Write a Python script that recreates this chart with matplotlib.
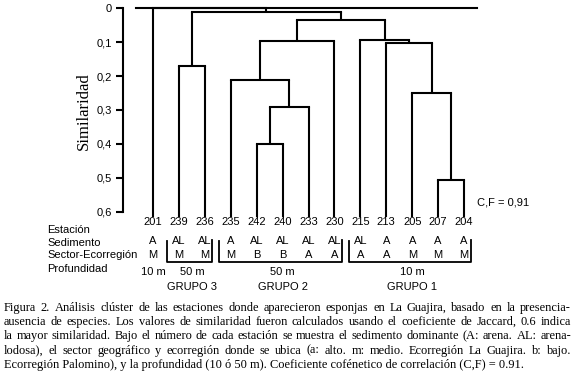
import numpy as np
import matplotlib
matplotlib.use('Agg')
import matplotlib.pyplot as plt
import matplotlib.transforms as mtransforms

# stations in leaf order (left to right)
stations = ['201', '239', '236', '235', '242', '240', '233', '230', '215', '213', '205', '207', '204']
sedimento = ['A', 'AL', 'AL', 'A', 'AL', 'AL', 'AL', 'AL', 'AL', 'A', 'A', 'A', 'A']
sector = ['M', 'M', 'M', 'M', 'B', 'B', 'A', 'A', 'A', 'A', 'M', 'M', 'M']

# merges: (left node, right node, similarity); nodes >= 13 are earlier merges
merges = [
    (4, 5, 0.40),     # 13: 242-240
    (13, 6, 0.29),    # 14: + 233
    (3, 14, 0.212),   # 15: 235 + ...
    (1, 2, 0.169),    # 16: 239-236 (grupo 3)
    (11, 12, 0.506),  # 17: 207-204
    (10, 17, 0.249),  # 18: 205 + ...
    (9, 18, 0.103),   # 19: 213 + ...
    (8, 19, 0.094),   # 20: 215 + ... (grupo 1)
    (15, 7, 0.096),   # 21: grupo 2 + 230
    (21, 20, 0.035),  # 22
    (16, 22, 0.010),  # 23
    (0, 23, 0.0),     # 24: 201 + all
]

# groups: (first leaf, last leaf, depth label, group label)
groups = [(0, 0, '10 m', ''), (1, 2, '50 m', 'GRUPO 3'), (3, 7, '50 m', 'GRUPO 2'), (8, 12, '10 m', 'GRUPO 1')]

yticks = [0, 0.1, 0.2, 0.3, 0.4, 0.5, 0.6]
yticklabels = ['0', '0,1', '0,2', '0,3', '0,4', '0,5', '0,6']

caption = [
    'Figura 2. Análisis clúster de las estaciones donde aparecieron esponjas en La Guajira, basado en la presencia-',
    'ausencia de especies. Los valores de similaridad fueron calculados usando el coeficiente de Jaccard, 0.6 indica',
    'la mayor similaridad. Bajo el número de cada estación se muestra el sedimento dominante (A: arena. AL: arena-',
    'lodosa), el sector geográfico y ecorregión donde se ubica (a: alto. m: medio. Ecorregión La Guajira. b: bajo.',
    'Ecorregión Palomino), y la profundidad (10 ó 50 m). Coeficiente cofénetico de correlación (C,F) = 0.91.',
]

W, H = 576, 380
sans = ['Liberation Sans', 'DejaVu Sans']
serif = ['Liberation Serif', 'DejaVu Serif']

fig = plt.figure(figsize=(W / 100, H / 100), dpi=100)
ax = fig.add_axes([123 / W, 1 - 218 / H, (490 - 123) / W, (218 - 5) / H])

n = len(stations)
leaf_base = 0.615
lw = 1.5

# draw dendrogram
pos = {i: float(i) for i in range(n)}
low = {i: leaf_base for i in range(n)}
for k, (a, b, h) in enumerate(merges):
    ax.plot([pos[a], pos[a]], [low[a], h], color='black', lw=lw, solid_capstyle='butt')
    ax.plot([pos[b], pos[b]], [low[b], h], color='black', lw=lw, solid_capstyle='butt')
    ax.plot([pos[a], pos[b]], [h, h], color='black', lw=lw, solid_capstyle='projecting')
    pos[n + k] = (pos[a] + pos[b]) / 2
    low[n + k] = h
# top line across the whole tree
ax.plot([-0.65, n - 0.5], [0, 0], color='black', lw=lw)

ax.set_xlim(-1.157, 13.0)
ax.set_ylim(0.6186, -0.0097)
for s in ['top', 'right', 'bottom']:
    ax.spines[s].set_visible(False)
ax.spines['left'].set_bounds(0, 0.6)
ax.spines['left'].set_linewidth(1.5)
ax.set_xticks([])
ax.set_yticks(yticks)
ax.set_yticklabels(yticklabels, family=sans, fontsize=8)
ax.tick_params(axis='y', direction='out', length=5, width=1.5, pad=3)
ax.set_ylabel('Similaridad', family=serif, fontsize=12, labelpad=3)

ax.text(12.5, 0.574, 'C,F = 0,91', family=sans, fontsize=8, ha='left', va='center')

# rows below the tree: x in data, y in figure pixels
tr = mtransforms.blended_transform_factory(ax.transData, fig.transFigure)
def fy(py):
    return 1 - py / H

for i in range(n):
    ax.text(i, fy(222), stations[i], transform=tr, ha='center', va='center', family=sans, fontsize=8, clip_on=False)
    ax.text(i, fy(241.5), sedimento[i], transform=tr, ha='center', va='center', family=sans, fontsize=8, clip_on=False)
    ax.text(i, fy(254.5), sector[i], transform=tr, ha='center', va='center', family=sans, fontsize=8, clip_on=False)

row_labels = [('Estación', 229.5), ('Sedimento', 243), ('Sector-Ecorregión', 255), ('Profundidad', 269)]
for lab, py in row_labels:
    fig.text(47 / W, fy(py), lab, ha='left', va='center', family=sans, fontsize=8)

for first, last, depth, name in groups:
    mid = (first + last) / 2
    if last > first:
        x0, x1 = first - 0.45, last + 0.28
        ax.plot([x0, x0, x1, x1], [fy(241), fy(261.5), fy(261.5), fy(240)], transform=tr,
                color='black', lw=1.3, clip_on=False)
    ax.text(mid, fy(272), depth, transform=tr, ha='center', va='center', family=sans, fontsize=8, clip_on=False)
    if name:
        ax.text(mid, fy(286.5), name, transform=tr, ha='center', va='center', family=sans, fontsize=8, clip_on=False)

# justified caption
renderer = fig.canvas.get_renderer()
cap_left, cap_right = 4, 571
cap_fs = 8.9
for li, line in enumerate(caption):
    py = 311 + li * 14.2
    words = line.split(' ')
    if li == len(caption) - 1:
        fig.text(cap_left / W, fy(py), line, ha='left', va='baseline', family=serif, fontsize=cap_fs)
        continue
    ts = [fig.text(0, fy(py), w, ha='left', va='baseline', family=serif, fontsize=cap_fs) for w in words]
    widths = [t.get_window_extent(renderer).width for t in ts]
    gap = (cap_right - cap_left - sum(widths)) / (len(words) - 1)
    x = cap_left
    for t, w in zip(ts, widths):
        t.set_x(x / W)
        x += w + gap

fig.savefig('out.png', dpi=100)
